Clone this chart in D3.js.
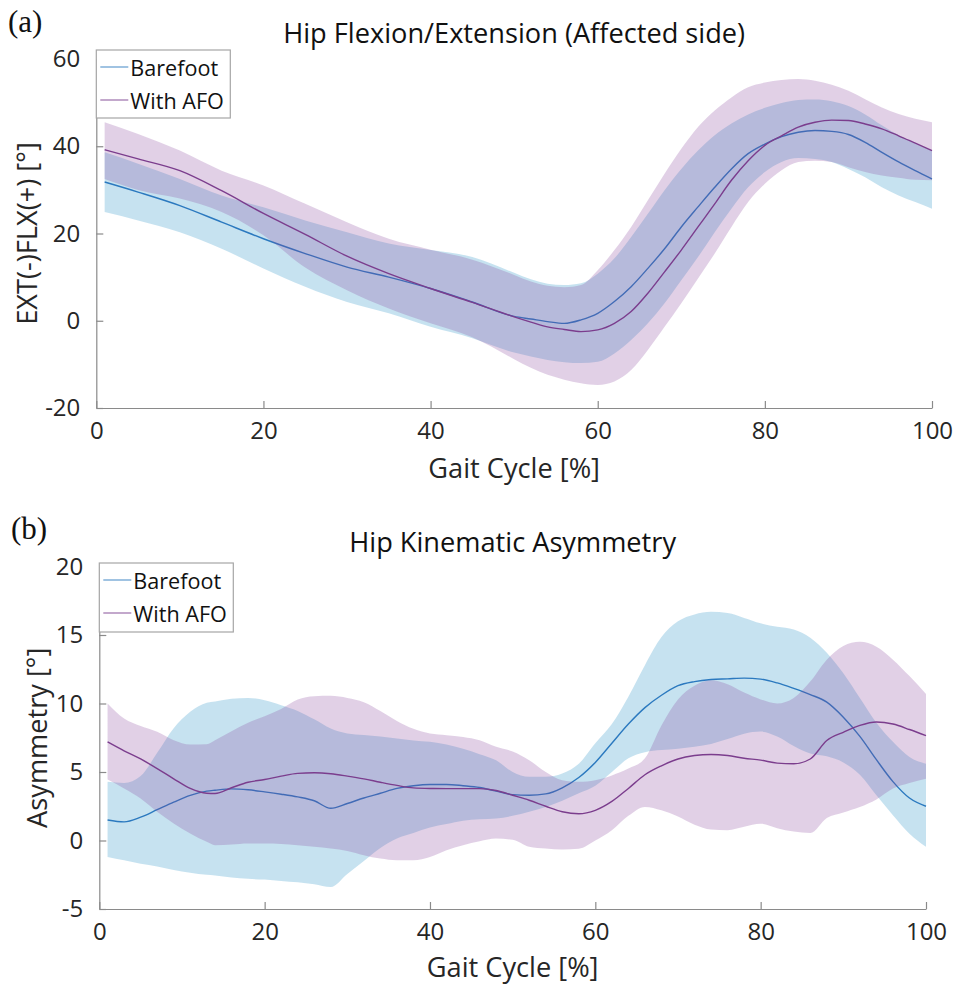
<!DOCTYPE html>
<html><head><meta charset="utf-8">
<script src="https://cdn.jsdelivr.net/npm/d3@7/dist/d3.min.js"></script>
<style>body{margin:0;background:#fff}</style>
</head><body>
<svg id="c" width="957" height="987" xmlns="http://www.w3.org/2000/svg"></svg>
<script>
// ---------- data ----------
const seriesNames = ["Barefoot", "With AFO"];
const xTicks = [0, 20, 40, 60, 80, 100];
const topYTicks = [-20, 0, 20, 40, 60];
const botYTicks = [-5, 0, 5, 10, 15, 20];

// Panel (a): Hip Flexion/Extension
const topX = [1,5,10,15,20,25,30,35,40,45,50,52,54,56,58,60,62,64,66,68,70,72,74,76,78,80,82,84,86,88,90,92,94,96,98,100];
const topBareMean = [31.8,29.5,26.4,22.6,18.8,15.4,12.3,10.0,7.4,4.3,1.0,0.4,-0.2,-0.6,0.2,1.7,4.4,7.8,12.0,16.5,21.5,26.1,30.6,34.8,38.3,40.5,42.2,43.2,43.6,43.4,42.7,40.9,38.6,36.4,34.4,32.5];
const topBareHigh = [38.6,36.0,32.5,28.7,26.0,23.0,20.3,17.7,16.2,14.6,11.0,9.5,8.5,8.2,8.6,10.8,14.3,19.2,24.5,29.9,34.8,39.0,42.5,45.2,47.3,48.8,49.9,50.6,50.7,50.3,49.2,47.3,44.8,42.5,40.6,39.0];
const topBareLow  = [24.9,23.0,20.3,16.5,12.0,7.8,4.3,1.7,-1.4,-4.0,-7.3,-8.2,-9.0,-9.5,-9.7,-9.4,-7.5,-4.4,-0.6,4.0,9.3,14.6,20.3,25.7,30.6,34.1,36.4,37.3,37.1,36.4,34.8,32.9,30.6,28.7,27.2,25.7];
const topAfoMean  = [39.2,37.1,34.4,29.8,24.6,19.8,14.8,10.8,7.4,4.2,0.9,-0.3,-1.4,-2.0,-2.5,-2.1,-0.6,2.1,6.3,11.2,16.2,21.5,26.8,32.2,36.7,40.2,42.4,44.4,45.5,46.0,45.9,45.1,44.0,42.4,40.7,39.0];
const topAfoHigh  = [45.5,42.8,39.0,34.4,31.0,26.8,22.6,18.8,16.3,14.0,10.5,9.0,8.0,7.7,8.2,11.6,16.2,21.5,27.6,33.7,39.4,44.4,48.2,51.2,53.5,54.6,55.2,55.4,55.0,54.1,52.7,50.8,48.9,47.4,46.3,45.5];
const topAfoLow   = [32.5,30.0,28.0,24.9,19.6,12.2,7.0,2.8,-0.6,-3.8,-8.8,-10.8,-12.4,-13.5,-14.3,-14.7,-13.9,-11.3,-6.7,-1.4,4.0,9.7,15.4,21.5,27.2,31.4,34.5,36.4,36.7,36.4,35.2,34.1,33.3,32.8,32.3,32.2];

// Panel (b): Hip Kinematic Asymmetry
const botX = [1,3,5,7,9,11,13,14,16,18,20,22,24,26,28,30,32,34,36,38,40,42,44,46,48,50,52,54,56,58,60,62,64,66,68,70,72,74,76,78,80,82,84,86,88,90,92,94,96,98,100];
const botBareMean = [1.5,1.36,1.7,2.25,2.8,3.3,3.6,3.67,3.77,3.7,3.55,3.38,3.18,2.9,2.35,2.7,3.1,3.45,3.8,4.0,4.09,4.09,4.0,3.87,3.6,3.35,3.3,3.4,3.85,4.6,5.7,7.1,8.5,9.7,10.6,11.3,11.6,11.75,11.8,11.85,11.78,11.5,11.1,10.65,10.1,9.0,7.6,5.9,4.3,3.1,2.5];
const botBareHigh = [4.28,4.2,4.7,6.4,8.2,9.4,10.05,10.15,10.34,10.41,10.24,9.88,9.46,8.85,8.17,7.81,7.7,7.6,7.45,7.3,7.2,7.0,6.7,6.3,5.85,5.0,4.65,4.65,4.89,5.6,7.1,8.5,10.5,12.8,14.85,16.0,16.5,16.69,16.6,16.25,15.85,15.6,15.4,14.8,13.7,12.2,10.4,8.6,7.2,6.1,5.6];
const botBareLow  = [-1.2,-1.45,-1.7,-1.9,-2.15,-2.35,-2.5,-2.55,-2.7,-2.8,-2.85,-2.95,-3.05,-3.2,-3.4,-2.45,-1.5,-0.55,0.15,0.55,0.95,1.2,1.45,1.55,1.6,1.8,2.1,2.45,2.9,3.45,4.0,5.0,6.0,6.45,6.6,6.7,6.85,7.05,7.4,7.8,7.95,7.6,6.9,6.35,6.15,5.7,4.8,3.3,1.85,0.5,-0.46];
const botAfoMean  = [7.2,6.55,5.95,5.25,4.5,3.8,3.45,3.43,3.85,4.25,4.45,4.7,4.9,4.94,4.87,4.7,4.5,4.25,4.02,3.84,3.8,3.79,3.79,3.79,3.65,3.3,2.94,2.5,2.1,1.95,2.2,2.85,3.8,4.8,5.45,5.95,6.2,6.28,6.2,6.0,5.87,5.65,5.6,5.95,7.3,7.9,8.4,8.65,8.5,8.1,7.65];
const botAfoHigh  = [10.0,8.9,8.35,7.93,7.32,7.0,7.03,7.32,7.98,8.59,9.07,9.6,10.29,10.53,10.56,10.41,10.1,9.46,8.73,8.15,7.81,7.69,7.56,7.32,6.84,6.5,5.86,5.0,4.4,4.28,4.4,4.75,5.25,6.0,8.4,10.3,11.3,11.7,11.4,10.8,10.3,10.0,10.4,11.6,13.2,14.2,14.5,14.15,13.2,12.0,10.7];
const botAfoLow   = [4.45,3.8,3.06,2.09,1.24,0.51,-0.1,-0.34,-0.29,-0.22,-0.22,-0.25,-0.34,-0.46,-0.59,-0.76,-1.07,-1.32,-1.44,-1.44,-1.2,-0.71,-0.34,-0.05,0.14,0.05,-0.46,-0.59,-0.66,-0.6,0.0,0.75,1.8,2.45,2.2,1.75,1.15,0.8,0.75,1.0,1.22,0.9,0.65,0.55,1.65,2.05,2.45,3.0,3.8,4.2,4.5];

// ---------- styling ----------
const fillColors = ["rgb(27,139,195)", "rgb(135,67,155)"];
const lineColors = ["#2b79bf", "#7b3d8d"];
const FONT = "'Open Sans', sans-serif";
const axisColor = "#8a8a8a";
const textColor = "#262626";
const tickFmt = d => String(d);   // plain hyphen-minus like the original

const svg = d3.select("#c");

function panel(cfg) {
  const g = svg.append("g");
  const x = d3.scaleLinear().domain([0, 100]).range(cfg.xr);
  const y = d3.scaleLinear().domain(cfg.yd).range(cfg.yr);

  const xAxis = d3.axisBottom(x).tickValues(xTicks).tickFormat(tickFmt).tickSizeInner(-7).tickSizeOuter(0).tickPadding(14);
  const yAxis = d3.axisLeft(y).tickValues(cfg.yTicks).tickFormat(tickFmt).tickSizeInner(-7).tickSizeOuter(0).tickPadding(16);
  const gx = g.append("g").attr("transform", `translate(0,${cfg.yr[0]})`).call(xAxis);
  const gy = g.append("g").attr("transform", `translate(${cfg.xr[0]},0)`).call(yAxis);
  [gx, gy].forEach(a => {
    a.select(".domain").attr("stroke", axisColor).attr("stroke-width", 1.2);
    a.selectAll(".tick line").attr("stroke", axisColor).attr("stroke-width", 1.2);
    a.selectAll(".tick text").attr("fill", textColor).style("font-family", FONT).style("font-size", "24px");
  });
  gx.selectAll(".tick text").attr("dy", "0.71em");

  cfg.series.forEach((s, i) => {
    const pts = cfg.xs.map((xv, k) => ({x: xv, m: s.mean[k], lo: s.low[k], hi: s.high[k]}));
    const area = d3.area().curve(d3.curveMonotoneX).x(d => x(d.x)).y0(d => y(d.lo)).y1(d => y(d.hi));
    const line = d3.line().curve(d3.curveMonotoneX).x(d => x(d.x)).y(d => y(d.m));
    g.append("path").datum(pts).attr("d", area).attr("fill", fillColors[i]).attr("fill-opacity", 0.25).attr("stroke", "none");
    g.append("path").datum(pts).attr("d", line).attr("fill", "none").attr("stroke", lineColors[i]).attr("stroke-width", 1.4);
  });

  g.append("text").attr("x", (cfg.xr[0] + cfg.xr[1]) / 2).attr("y", cfg.titleY).attr("text-anchor", "middle")
    .attr("fill", "#111").style("font-family", FONT).style("font-size", "27.2px").text(cfg.title);
  g.append("text").attr("x", (cfg.xr[0] + cfg.xr[1]) / 2).attr("y", cfg.xlabY).attr("text-anchor", "middle")
    .attr("fill", textColor).style("font-family", FONT).style("font-size", "27.2px").text("Gait Cycle [%]");
  g.append("text").attr("transform", `translate(${cfg.ylabX},${(cfg.yr[0] + cfg.yr[1]) / 2}) rotate(-90)`)
    .attr("text-anchor", "middle").attr("fill", textColor).style("font-family", FONT).style("font-size", "27.2px").text(cfg.ylabel);
  g.append("text").attr("x", cfg.letterX).attr("y", cfg.letterY).attr("fill", "#111")
    .style("font-family", "'Liberation Serif', 'DejaVu Serif', serif").style("font-size", "31px").text(cfg.letter);

  const L = cfg.legend;
  const lg = g.append("g");
  lg.append("rect").attr("x", L.x).attr("y", L.y).attr("width", L.w).attr("height", L.h)
    .attr("fill", "#fff").attr("stroke", "#a6a6a6").attr("stroke-width", 1.2);
  seriesNames.forEach((n, i) => {
    const cy = L.y + L.rowY[i];
    lg.append("line").attr("x1", L.x + 4).attr("x2", L.x + 32).attr("y1", cy).attr("y2", cy)
      .attr("stroke", lineColors[i]).attr("stroke-opacity", 0.75).attr("stroke-width", 1.2);
    lg.append("text").attr("x", L.x + 34).attr("y", cy).attr("dominant-baseline", "central")
      .attr("fill", "#111").style("font-family", FONT).style("font-size", "21.6px").text(n);
  });
}

panel({
  xr: [96.3, 932], yd: [-20, 60], yr: [408, 59], yTicks: topYTicks,
  xs: topX,
  series: [
    {mean: topBareMean, low: topBareLow, high: topBareHigh},
    {mean: topAfoMean, low: topAfoLow, high: topAfoHigh}
  ],
  title: "Hip Flexion/Extension (Affected side)", titleY: 43,
  xlabY: 478, ylabX: 37, ylabel: "EXT(-)FLX(+) [°]",
  letter: "(a)", letterX: 8, letterY: 32,
  legend: {x: 96.3, y: 50, w: 134, h: 68, rowY: [17, 50]}
});

panel({
  xr: [99.3, 926], yd: [-5, 20], yr: [909, 566.5], yTicks: botYTicks,
  xs: botX,
  series: [
    {mean: botBareMean, low: botBareLow, high: botBareHigh},
    {mean: botAfoMean, low: botAfoLow, high: botAfoHigh}
  ],
  title: "Hip Kinematic Asymmetry", titleY: 552,
  xlabY: 977, ylabX: 47, ylabel: "Asymmetry [°]",
  letter: "(b)", letterX: 11, letterY: 539,
  legend: {x: 99.3, y: 563, w: 134, h: 69, rowY: [17, 50]}
});
</script>
</body></html>
